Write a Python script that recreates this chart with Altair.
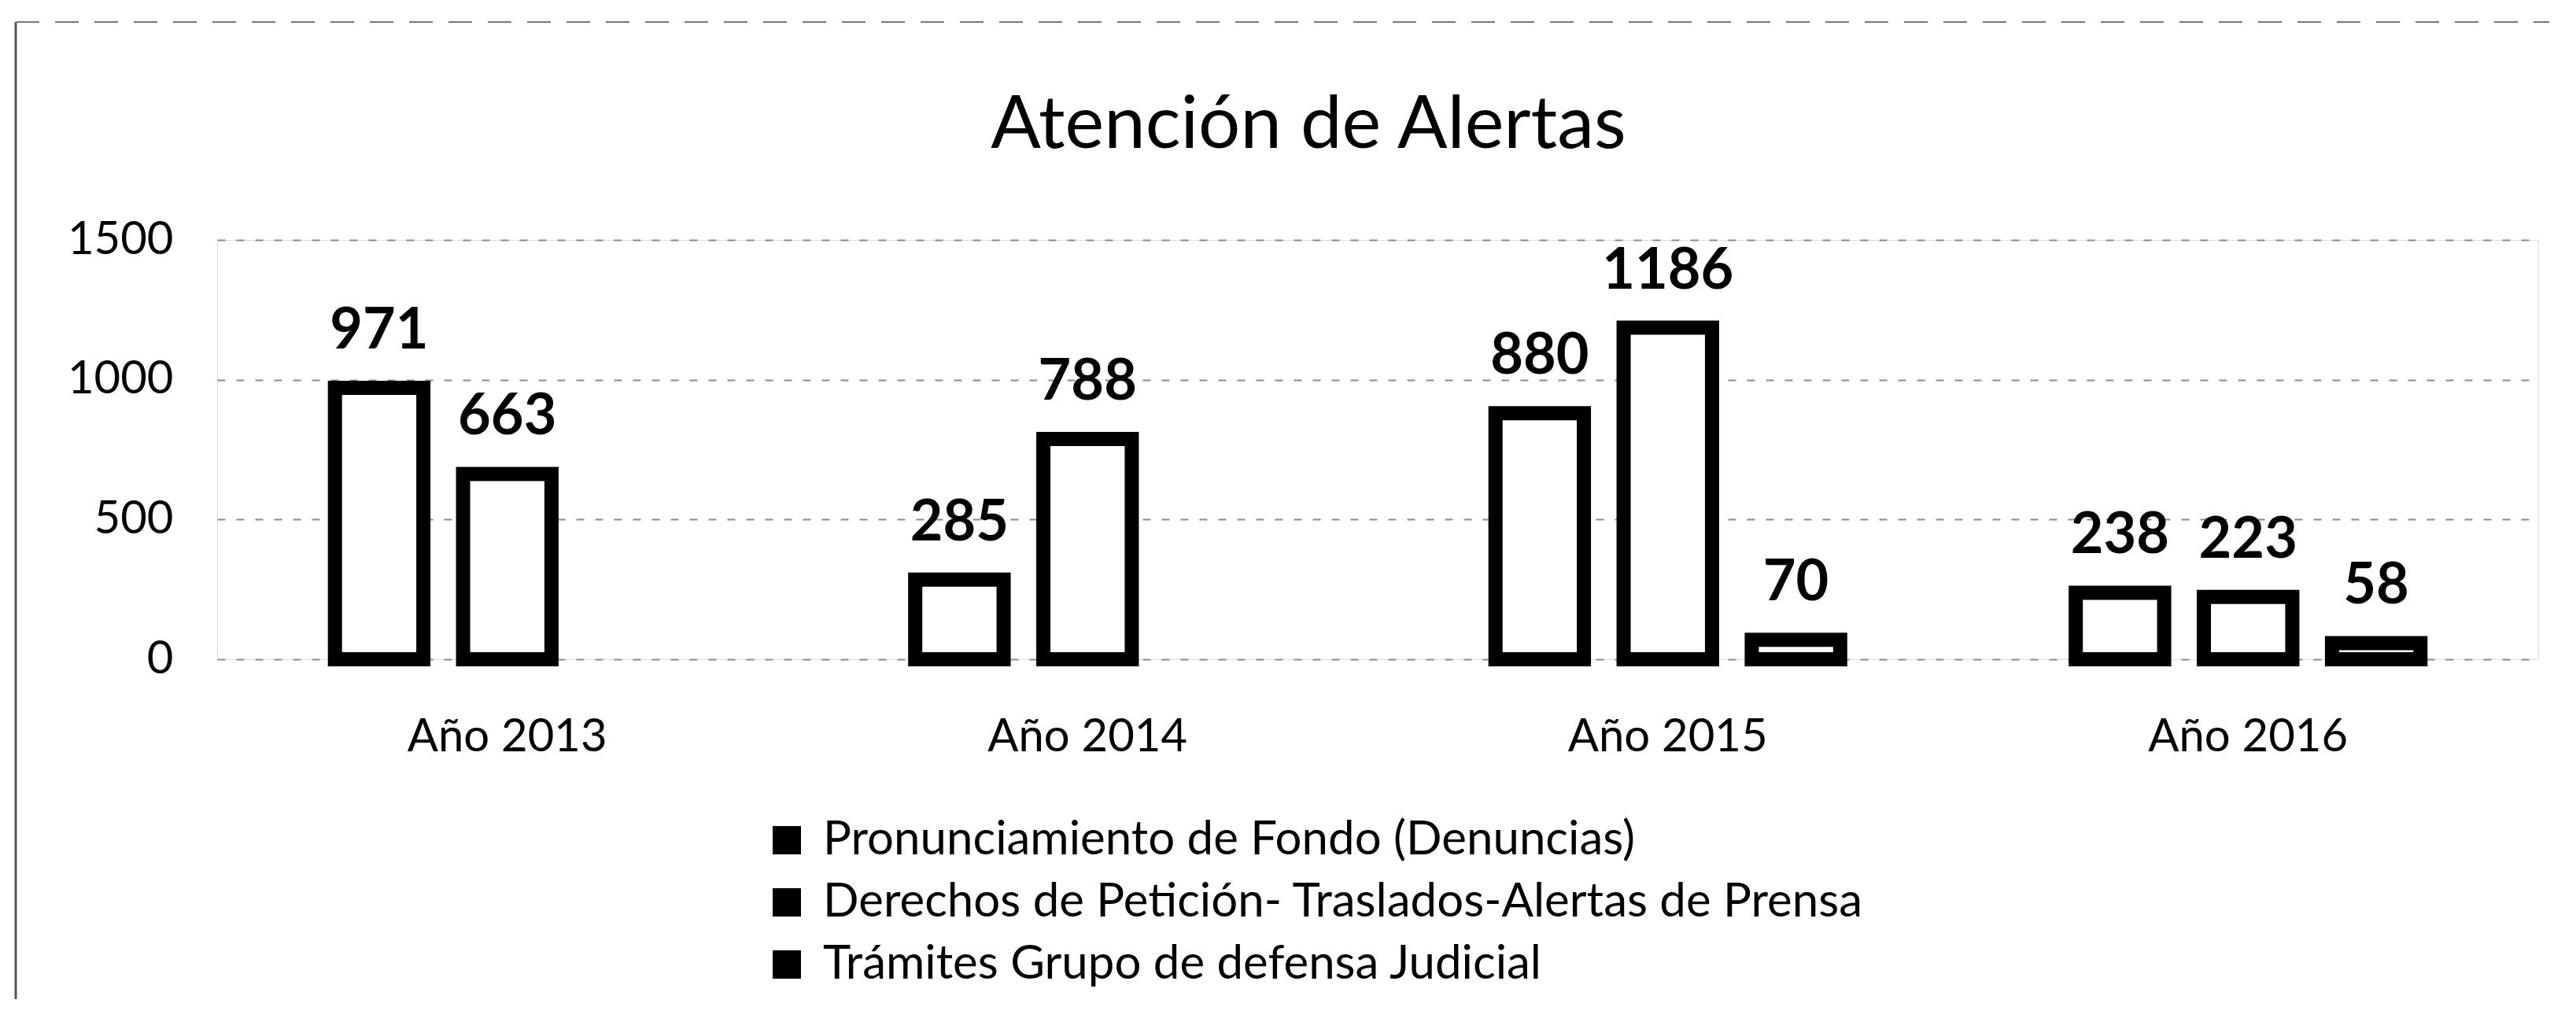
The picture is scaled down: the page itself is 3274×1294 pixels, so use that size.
import altair as alt
import pandas as pd

years = ["Año 2013", "Año 2014", "Año 2015", "Año 2016"]
series = [
    "Pronunciamiento de Fondo (Denuncias)",
    "Derechos de Petición- Traslados-Alertas de Prensa",
    "Trámites Grupo de defensa Judicial",
]
pronunciamiento = [971, 285, 880, 238]
derechos = [663, 788, 1186, 223]
tramites = [None, None, 70, 58]
y_ticks = [0, 500, 1000, 1500]

rows = []
for s, vals in zip(series, [pronunciamiento, derechos, tramites]):
    for yr, v in zip(years, vals):
        if v is not None:
            rows.append({"year": yr, "series": s, "value": v})
df = pd.DataFrame(rows)

FONT = "Lato"

x = alt.X(
    "year:N",
    sort=years,
    scale=alt.Scale(domain=years, paddingInner=0.406, paddingOuter=0.203),
    axis=alt.Axis(
        title=None, labelAngle=0, ticks=False, domain=False, grid=False,
        labelFont=FONT, labelFontSize=58, labelColor="black", labelPadding=70,
        labelLimit=0,
    ),
)
xoff = alt.XOffset(
    "series:N", sort=series,
    scale=alt.Scale(domain=series, paddingInner=0.31, paddingOuter=0),
)
y = alt.Y(
    "value:Q",
    scale=alt.Scale(domain=[0, 1500], nice=False),
    axis=alt.Axis(
        values=y_ticks, title=None, ticks=False, domain=False, grid=True,
        gridColor="#8a8a8a", gridDash=[10, 14], gridWidth=2,
        labelFont=FONT, labelFontSize=58, labelColor="black", labelPadding=56,
        format="d",
    ),
)

bars = alt.Chart(df).mark_bar(fill="white", stroke="black", strokeWidth=18).encode(
    x=x, xOffset=xoff, y=y
)

labels = alt.Chart(df).mark_text(
    font=FONT, fontSize=72, fontWeight="bold", baseline="alphabetic", dy=-50
).encode(
    x=x, xOffset=xoff, y=y,
    text=alt.Text("value:Q", format="d"),
    color=alt.Color(
        "series:N", sort=series,
        scale=alt.Scale(domain=series, range=["black", "black", "black"]),
        legend=alt.Legend(
            title=None, orient="none", legendX=694, legendY=733,
            direction="vertical", symbolType="square", symbolSize=1296,
            symbolStrokeWidth=0, labelFont=FONT, labelFontSize=60,
            labelColor="black", labelOffset=16, rowPadding=19, padding=0,
            labelLimit=0,
        ),
    ),
)

frame_df = pd.DataFrame([{"k": 1}])
left_border = alt.Chart(frame_df).mark_rule(color="#555555", strokeWidth=3).encode(
    x=alt.value(-256), y=alt.value(-277), y2=alt.value(965)
)
top_border = alt.Chart(frame_df).mark_rule(
    color="#777777", strokeWidth=2, strokeDash=[30, 20]
).encode(
    x=alt.value(-256), x2=alt.value(2964), y=alt.value(-277)
)

chart = alt.layer(left_border, top_border, bars, labels).properties(
    width=2950,
    height=533,
    title=alt.TitleParams(
        "Atención de Alertas", font=FONT, fontSize=94, fontWeight="normal",
        color="black", anchor="middle", dx=-88, offset=-181,
    ),
    autosize=alt.AutoSizeParams(type="none"),
    padding={"left": 268, "top": 297, "right": 40, "bottom": 440},
).configure_view(stroke=None).configure(background="white")

chart.save("out.html", embed_options={"renderer": "svg", "actions": False})
